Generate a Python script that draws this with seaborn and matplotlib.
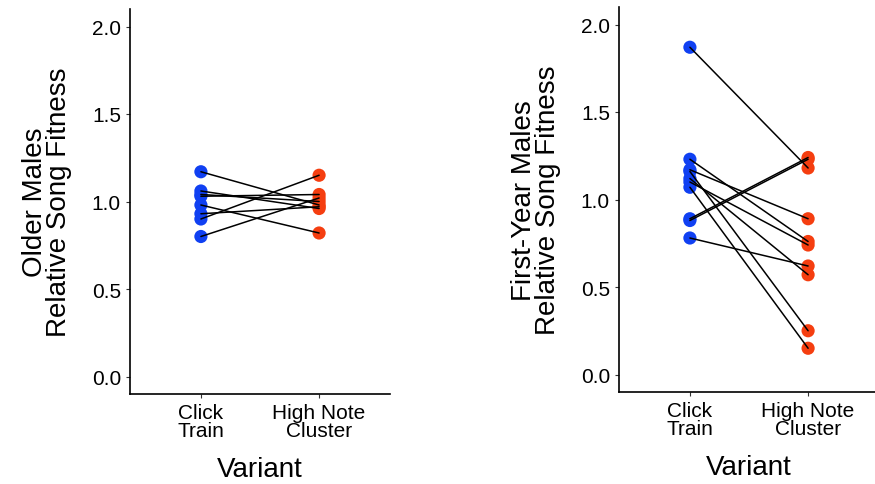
import matplotlib

matplotlib.use("Agg")
import matplotlib.pyplot as plt
import pandas as pd
import seaborn as sns

# categories on the x axis
variants = ["Click\nTrain", "High Note\nCluster"]

# older males: paired values (click train -> high note cluster)
older_click = [1.17, 1.06, 1.04, 1.03, 0.98, 0.93, 0.90, 0.80]
older_high = [0.98, 0.96, 1.00, 1.04, 0.82, 0.97, 1.15, 1.02]

# first-year males
first_click = [1.87, 1.23, 1.17, 1.16, 1.12, 1.10, 1.07, 0.89, 0.88, 0.78]
first_high = [1.18, 0.76, 0.89, 0.25, 0.57, 0.74, 0.15, 1.24, 1.23, 0.62]

y_ticks = [0.0, 0.5, 1.0, 1.5, 2.0]
point_colors = {variants[0]: "#1040F2", variants[1]: "#F53E10"}

sns.set_theme(style="ticks")
plt.rcParams["font.family"] = ["Liberation Sans", "DejaVu Sans"]
plt.rcParams["text.color"] = "black"
plt.rcParams["axes.labelcolor"] = "black"


def to_long(click, high):
    rows = []
    for i, (a, b) in enumerate(zip(click, high)):
        rows.append({"bird": i, "variant": variants[0], "fitness": a})
        rows.append({"bird": i, "variant": variants[1], "fitness": b})
    return pd.DataFrame(rows)


def paired_panel(ax, df, ylabel):
    sns.scatterplot(
        data=df, x="variant", y="fitness", hue="variant",
        palette=point_colors, s=90, linewidth=0, legend=False, ax=ax, zorder=2,
    )
    sns.lineplot(
        data=df, x="variant", y="fitness", units="bird", estimator=None,
        color="black", linewidth=1.1, sort=False, ax=ax, zorder=3,
    )
    ax.set_xlim(-0.6, 1.6)
    ax.set_ylim(-0.1, 2.1)
    ax.set_yticks(y_ticks)
    ax.set_yticklabels([f"{t:.1f}" for t in y_ticks])
    ax.set_xlabel("Variant", fontsize=20, labelpad=12)
    ax.set_ylabel(ylabel, fontsize=20, linespacing=0.9, labelpad=14)
    ax.tick_params(labelsize=15, length=3, width=0.8, color="#333333", labelcolor="black")
    for sp in ["top", "right"]:
        ax.spines[sp].set_visible(False)
    for sp in ["left", "bottom"]:
        ax.spines[sp].set_linewidth(1.2)
        ax.spines[sp].set_color("black")
    for lab in ax.get_xticklabels():
        lab.set_linespacing(0.9)


fig = plt.figure(figsize=(8.75, 4.85), dpi=100)
ax1 = fig.add_axes([130 / 875, 90 / 485, 260 / 875, 385 / 485])
ax2 = fig.add_axes([619 / 875, 92 / 485, 260 / 875, 385 / 485])

paired_panel(ax1, to_long(older_click, older_high), "Older Males\nRelative Song Fitness")
paired_panel(ax2, to_long(first_click, first_high), "First-Year Males\nRelative Song Fitness")

fig.savefig("out.png", dpi=100)
